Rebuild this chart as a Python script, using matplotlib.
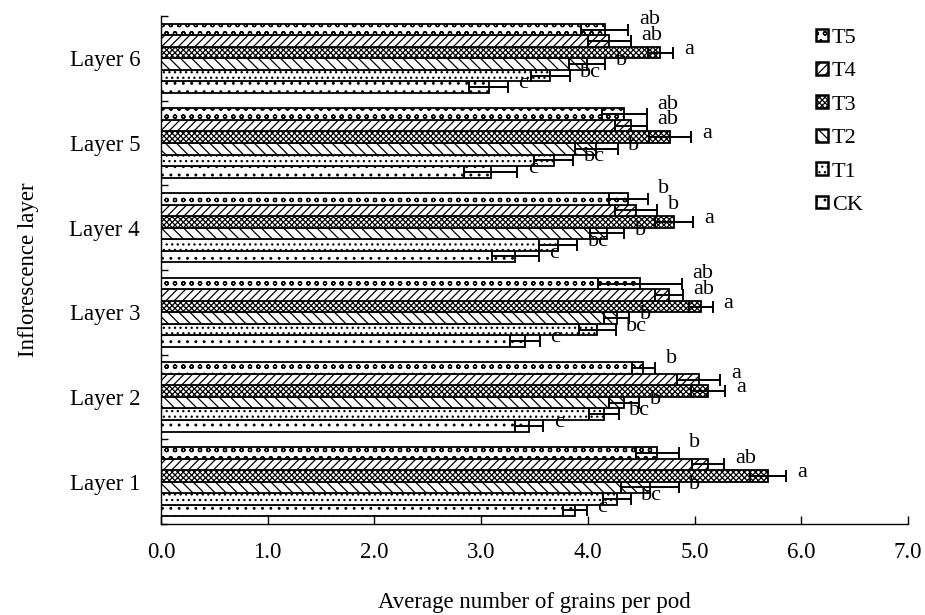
import matplotlib
matplotlib.use("Agg")
import matplotlib.pyplot as plt
import numpy as np
from matplotlib.patches import Patch

plt.rcParams['font.family'] = ['Liberation Serif', 'DejaVu Serif']
plt.rcParams['hatch.linewidth'] = 0.9

layers = ['Layer 1', 'Layer 2', 'Layer 3', 'Layer 4', 'Layer 5', 'Layer 6']
treatments = ['CK', 'T1', 'T2', 'T3', 'T4', 'T5']

ck_mean = [3.88, 3.45, 3.41, 3.32, 3.09, 3.07]
ck_err = [0.11, 0.13, 0.14, 0.22, 0.25, 0.18]
t1_mean = [4.27, 4.15, 4.09, 3.72, 3.68, 3.65]
t1_err = [0.13, 0.14, 0.17, 0.18, 0.18, 0.18]
t2_mean = [4.58, 4.34, 4.27, 4.18, 4.08, 3.99]
t2_err = [0.27, 0.14, 0.12, 0.16, 0.20, 0.17]
t3_mean = [5.69, 5.13, 5.06, 4.81, 4.77, 4.68]
t3_err = [0.17, 0.16, 0.11, 0.18, 0.20, 0.12]
t4_mean = [5.13, 5.04, 4.76, 4.45, 4.40, 4.20]
t4_err = [0.15, 0.20, 0.13, 0.20, 0.15, 0.20]
t5_mean = [4.65, 4.52, 4.49, 4.38, 4.34, 4.16]
t5_err = [0.20, 0.11, 0.39, 0.18, 0.21, 0.22]

ck_sig = ['c', 'c', 'c', 'c', 'c', 'c']
t1_sig = ['bc', 'bc', 'bc', 'bc', 'bc', 'bc']
t2_sig = ['b', 'b', 'b', 'b', 'b', 'b']
t3_sig = ['a', 'a', 'a', 'a', 'a', 'a']
t4_sig = ['ab', 'a', 'ab', 'b', 'ab', 'ab']
t5_sig = ['b', 'b', 'ab', 'b', 'ab', 'ab']

means = [ck_mean, t1_mean, t2_mean, t3_mean, t4_mean, t5_mean]
errs = [ck_err, t1_err, t2_err, t3_err, t4_err, t5_err]
sigs = [ck_sig, t1_sig, t2_sig, t3_sig, t4_sig, t5_sig]
hatches = ['..', '...', '\\\\\\', 'xxxxxx', '////', 'oo']
label_dy = [0.04, 0.04, 0.04, 0.04, 0.07, 0.12]

fig = plt.figure(figsize=(9.25, 6.15), dpi=100)
ax = fig.add_axes([0.174, 0.148, 0.8076, 0.826])

y = np.arange(1, len(layers) + 1)
bh = 0.136
for i, (m, e, s, h, name) in enumerate(zip(means, errs, sigs, hatches, treatments)):
    pos = y + (i - 2.5) * bh
    ax.barh(pos, m, height=bh, color='white', edgecolor='black',
            linewidth=1.3, hatch=h, label=name)
    ax.errorbar(m, pos, xerr=e, fmt='none', ecolor='black',
                elinewidth=1.4, capsize=4.5, capthick=1.4)
    for p, mv, ev, lab in zip(pos, m, e, s):
        ax.text(mv + ev + 0.1, p + label_dy[i], lab, ha='left', va='center',
                fontsize=16)

ax.set_xlim(0, 7)
ax.set_ylim(0.5, 6.5)
ax.set_xticks(np.arange(0, 8, 1))
ax.set_xticklabels([f'{v:.1f}' for v in np.arange(0, 8, 1)])
ax.set_yticks(y)
ax.set_yticklabels(layers)
ax.set_yticks(np.arange(0.5, 7, 1), minor=True)
ax.tick_params(axis='y', which='major', length=0, pad=15, labelsize=16.5)
ax.tick_params(axis='y', which='minor', direction='in', length=5, width=1)
ax.tick_params(axis='x', direction='in', length=6, width=1, pad=13,
               labelsize=16.5)
for sp in ['top', 'right']:
    ax.spines[sp].set_visible(False)
for sp in ['left', 'bottom']:
    ax.spines[sp].set_linewidth(1.0)

ax.set_xlabel('Average number of grains per pod', fontsize=16.5, labelpad=21)
ax.set_ylabel('Inflorescence layer', fontsize=16.5, labelpad=22)

handles = [Patch(facecolor='white', edgecolor='black', hatch=hatches[i],
                 linewidth=1.8, label=treatments[i])
           for i in range(len(treatments) - 1, -1, -1)]
fig.legend(handles=handles, loc='upper left', bbox_to_anchor=(0.873, 0.968),
           frameon=False, fontsize=16, handlelength=0.5, handleheight=0.5,
           handletextpad=0.2, labelspacing=0.64, borderaxespad=0)

fig.savefig('out.png', dpi=100)
